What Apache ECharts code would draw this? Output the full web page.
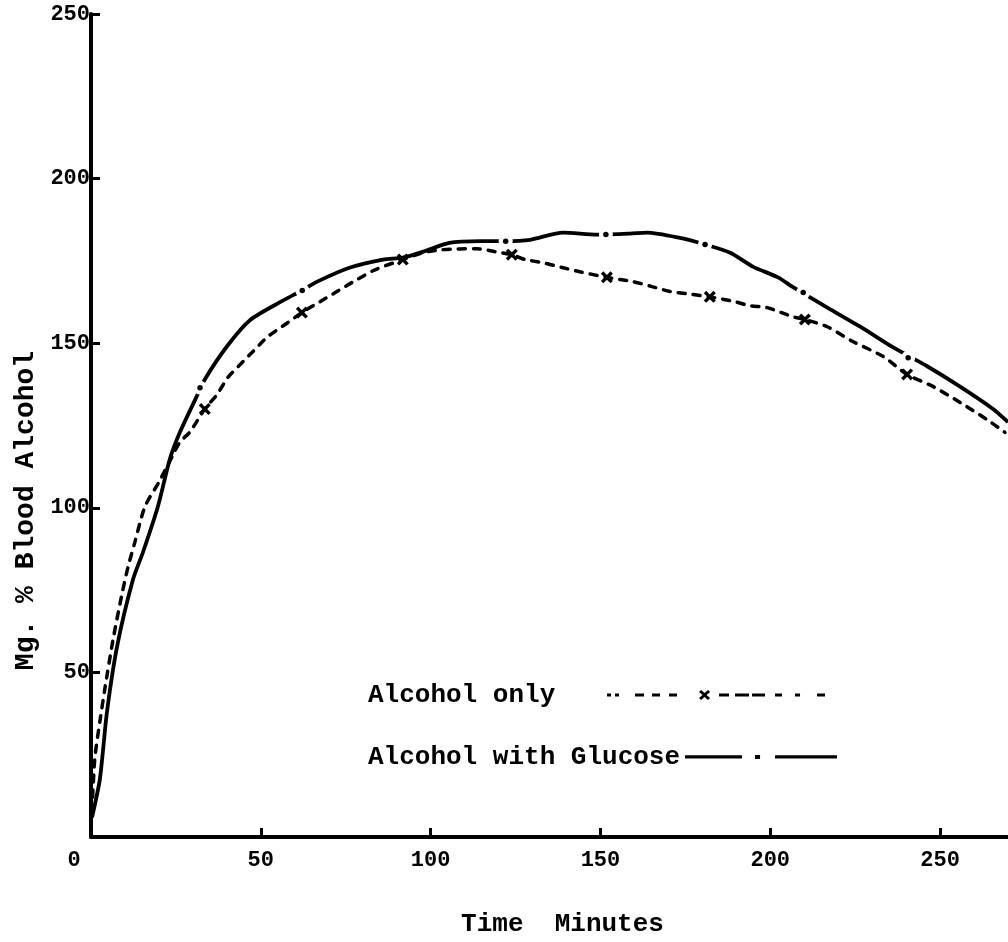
<!DOCTYPE html>
<html><head><meta charset="utf-8">
<script src="https://cdn.jsdelivr.net/npm/echarts@6/dist/echarts.min.js"></script>
<style>html,body{margin:0;padding:0;background:#fff}#c{width:1008px;height:942px}</style>
</head><body><div id="c"></div>
<script>
// ---- data ----
const xTicks = [0, 50, 100, 150, 200, 250];
const yTicks = [0, 50, 100, 150, 200, 250];

const glucoseT = [0.3, 2.6, 4.7, 7.7, 12.3, 15.3, 19.7, 23.2, 26.2, 31.2, 33.5, 40.0, 46.8, 56.6, 62.1, 66.6, 76.3, 86.0, 91.8, 97.8, 105.5, 114.5, 121.9, 129.3, 139.0, 149.0, 158.7, 163.7, 173.4, 180.8, 188.2, 195.0, 202.3, 206.7, 216.8, 226.5, 236.2, 246.2, 255.9, 265.6, 270];
const glucoseV = [6, 17.5, 38, 58, 78, 86.5, 100.4, 114.7, 123, 134, 139, 149, 157, 163, 166, 168.7, 173, 175.4, 176, 177.8, 180.5, 181, 181, 181.4, 183.6, 183, 183.3, 183.6, 182, 180, 177.5, 173.2, 170, 167, 160.8, 155, 148.7, 143, 136.8, 130, 126];

const aloneT = [0.3, 1.1, 2.6, 4.2, 6.5, 9.1, 10.9, 12.9, 15.9, 20.1, 23.9, 26.2, 29.1, 33.5, 37.1, 40.3, 43.9, 47.7, 52.1, 58.0, 62.1, 67.4, 72.4, 78.3, 83.6, 91.8, 97.8, 103.3, 113.6, 119.0, 123.9, 127.8, 132.8, 138.7, 143.9, 151.9, 159.6, 165.2, 170.5, 175.5, 182.2, 189.6, 194.0, 199.1, 206.7, 210.2, 216.8, 224.3, 233.2, 240.3, 248.0, 255.9, 263.8, 269.1];
const aloneV = [7.6, 23.7, 35, 45.8, 60, 73.7, 82, 89.5, 100.4, 108, 115.6, 120, 123, 130, 134.4, 139.6, 143.5, 147.5, 152, 156.3, 159.3, 162.6, 165.7, 169.3, 172.3, 175.4, 177.5, 178.4, 178.7, 177.8, 176.9, 175.4, 174.5, 173, 171.7, 170, 168.7, 167.2, 165.7, 165, 164.1, 162.6, 161.4, 160.8, 158, 157.2, 155, 150.5, 146, 140.5, 136.8, 132, 126.8, 122.9];

const aloneMarkT = [33.5, 62.1, 91.8, 123.9, 151.9, 182.2, 210.2, 240.3];
const aloneMarkV = [130, 159.3, 175.4, 176.9, 170, 164.1, 157.2, 140.5];

const glucoseDotT = [32.1, 62.2, 122.1, 151.6, 180.8, 209.7, 240.6];
const glucoseDotV = [136.5, 166, 181, 183, 180, 165.4, 145.6];

const seriesNames = ['Alcohol only', 'Alcohol with Glucose'];
const xName = 'Time  Minutes';
const yName = 'Mg. % Blood Alcohol';

// ---- build ----
const zip = (a, b) => a.map((v, i) => [v, b[i]]);
const FONT = 'Liberation Mono';

function rect(x0, x1, y0, y1) {
  return `M${x0},${y0} L${x1},${y0} L${x1},${y1} L${x0},${y1} Z `;
}
const xMarkPath = 'path://M2,0 L5,3 L8,0 L10,2 L7,5 L10,8 L8,10 L5,7 L2,10 L0,8 L3,5 L0,2 Z';

// legend icon for "Alcohol only": dashes with an x
const aloneIconParts = [[0,4],[8,12],[28,37],[45,53],[62,70],[112,122],[128,142],[145,158],[168,175],[188,193],[210,218]];
let aloneIcon = 'path://';
aloneIconParts.forEach(p => { aloneIcon += rect(p[0], p[1], 3.5, 6.5); });
aloneIcon += 'M94,0 L97.5,3 L101,0 L103,2 L99.5,5 L103,8 L101,10 L97.5,7 L94,10 L92,8 L95.5,5 L92,2 Z';

// legend icon for glucose: long dash, dot, long dash
const glucoseIcon = 'path://' + rect(0, 57, 0.3, 3.7) + rect(70, 75, 0, 4.2) + rect(90, 152, 0.3, 3.7);

const chart = echarts.init(document.getElementById('c'), null, {renderer: 'canvas'});
const labelStyle = {fontFamily: FONT, fontWeight: 'bold', fontSize: 22, color: '#000'};
const bigText = {fontFamily: FONT, fontWeight: 'bold', fontSize: 26, color: '#000'};

chart.setOption({
  animation: false,
  backgroundColor: '#fff',
  grid: {left: 91, right: 0, top: 14, bottom: 104, containLabel: false},
  xAxis: {
    type: 'value', min: 0, max: 270, interval: 50,
    name: xName, nameLocation: 'middle', nameGap: 74,
    nameTextStyle: Object.assign({padding: [0, 0, 0, 26]}, bigText),
    axisLine: {show: true, onZero: false, lineStyle: {color: '#000', width: 4}},
    axisTick: {show: true, inside: true, length: 9, lineStyle: {color: '#000', width: 3}},
    axisLabel: Object.assign({
      margin: 12,
      showMaxLabel: false,
      formatter: v => (v === 0 ? '{z|0}' : (xTicks.indexOf(v) >= 0 ? String(v) : '')),
      rich: {z: Object.assign({padding: [0, 34, 0, 0]}, labelStyle)}
    }, labelStyle),
    splitLine: {show: false}
  },
  yAxis: {
    type: 'value', min: 0, max: 250, interval: 50,
    name: yName, nameLocation: 'middle', nameGap: 42, nameRotate: 90,
    nameTextStyle: Object.assign({}, bigText, {fontSize: 28, padding: [0, 170, 0, 0]}),
    axisLine: {show: true, onZero: false, lineStyle: {color: '#000', width: 4}},
    axisTick: {show: true, inside: true, length: 9, lineStyle: {color: '#000', width: 3}},
    axisLabel: Object.assign({
      margin: 1, showMinLabel: false, padding: [8, 0, 0, 0],
      formatter: v => (yTicks.indexOf(v) >= 0 ? String(v) : '')
    }, labelStyle),
    splitLine: {show: false}
  },
  legend: [
    {
      data: [{name: seriesNames[0], icon: aloneIcon}],
      left: 368, top: 682, padding: 0, align: 'right',
      itemWidth: 218, itemHeight: 10, selectedMode: false,
      itemStyle: {borderWidth: 0, color: '#000'},
      formatter: n => n + '   ',
      textStyle: bigText
    },
    {
      data: [{name: seriesNames[1], icon: glucoseIcon}],
      left: 368, top: 744, padding: 0, align: 'right',
      itemWidth: 152, itemHeight: 4.2, selectedMode: false,
      itemStyle: {borderWidth: 0, color: '#000'},
      formatter: n => n,
      textStyle: bigText
    }
  ],
  series: [
    {
      name: seriesNames[1], type: 'line', data: zip(glucoseT, glucoseV),
      showSymbol: false, symbol: 'none', smooth: 0.25, z: 2,
      color: '#000',
      lineStyle: {color: '#000', width: 3.8, type: 'solid'}
    },
    {
      name: 'gap', type: 'scatter', data: zip(glucoseDotT, glucoseDotV),
      symbol: 'circle', symbolSize: 14, z: 3,
      itemStyle: {color: '#fff', borderWidth: 0, opacity: 1}, silent: true
    },
    {
      name: 'dot', type: 'scatter', data: zip(glucoseDotT, glucoseDotV),
      symbol: 'circle', symbolSize: 5.5, z: 4,
      itemStyle: {color: '#000', borderWidth: 0, opacity: 1}, silent: true
    },
    {
      name: seriesNames[0], type: 'line', data: zip(aloneT, aloneV),
      showSymbol: false, symbol: 'none', smooth: 0.25, z: 5,
      color: '#000',
      lineStyle: {color: '#000', width: 3.5, type: [7, 8], cap: 'round'}
    },
    {
      name: 'marks', type: 'scatter', data: zip(aloneMarkT, aloneMarkV),
      symbol: xMarkPath, symbolSize: 12, z: 6,
      itemStyle: {color: '#000', borderWidth: 0, opacity: 1}, silent: true
    }
  ]
});
</script>
</body></html>
